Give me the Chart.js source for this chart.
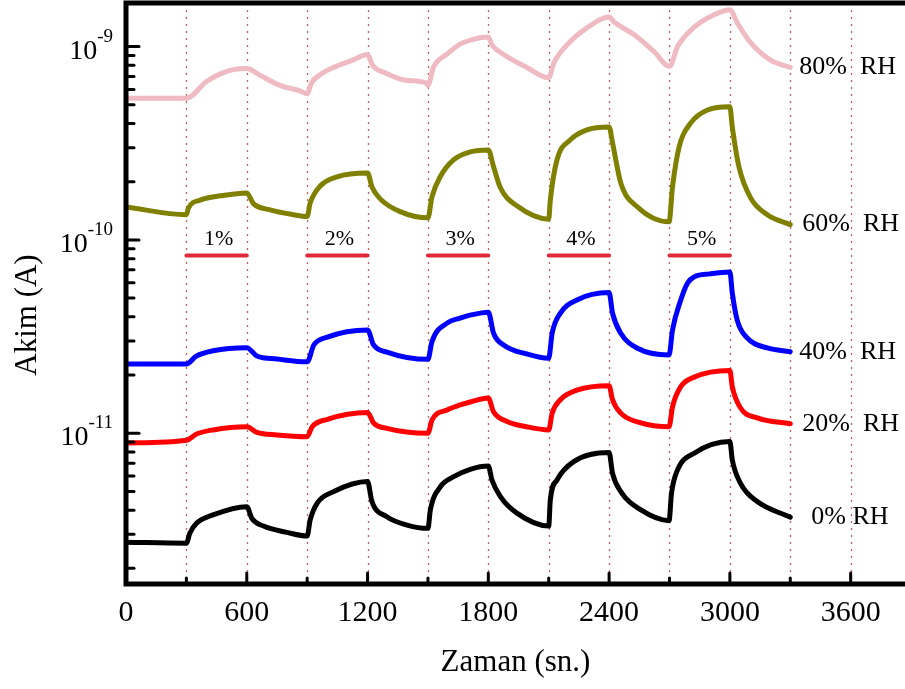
<!DOCTYPE html>
<html>
<head>
<meta charset="utf-8">
<script src="https://cdn.jsdelivr.net/npm/chart.js@4.4.0/dist/chart.umd.min.js"></script>
<style>
html, body { margin: 0; padding: 0; background: #fff; overflow: hidden; }
#myChart { display: block; }
</style>
</head>
<body>
<canvas id="myChart" width="905" height="689"></canvas>
<script>
// time (s) and current (A) for each humidity level
const t80 = [0,300,400,466,533,600,666,765,864,900,922,960,1043,1126,1200,1225,1290,1390,1490,1500,1527,1593,1660,1726,1800,1818,1876,1991,2100,2125,2191,2290,2400,2425,2525,2624,2700,2740,2823,2922,3000,3036,3102,3202,3300];
const v80 = [5.4e-10,5.4e-10,6.6e-10,7.2e-10,7.6e-10,7.7e-10,7.1e-10,6.3e-10,5.9e-10,5.7e-10,6.5e-10,7.1e-10,7.9e-10,8.5e-10,9.1e-10,8.0e-10,7.3e-10,6.7e-10,6.5e-10,6.3e-10,7.8e-10,9.1e-10,1.03e-9,1.09e-9,1.12e-9,1.02e-9,9.1e-10,7.8e-10,6.9e-10,8.2e-10,1.02e-9,1.25e-9,1.42e-9,1.34e-9,1.15e-9,9.4e-10,7.9e-10,1.0e-9,1.26e-9,1.46e-9,1.55e-9,1.33e-9,1.05e-9,8.5e-10,7.8e-10];

const t60 = [0,300,310,372,470,600,633,716,832,900,915,965,1048,1200,1222,1263,1362,1500,1520,1561,1627,1710,1800,1826,1860,1942,2100,2108,2141,2207,2290,2400,2417,2458,2541,2698,2715,2748,2806,2889,3000,3012,3045,3103,3186,3300];
const v60 = [1.48e-10,1.35e-10,1.46e-10,1.61e-10,1.69e-10,1.75e-10,1.54e-10,1.43e-10,1.35e-10,1.32e-10,1.55e-10,1.90e-10,2.12e-10,2.22e-10,1.88e-10,1.63e-10,1.40e-10,1.30e-10,1.67e-10,2.12e-10,2.59e-10,2.85e-10,2.92e-10,2.39e-10,1.86e-10,1.50e-10,1.28e-10,1.61e-10,2.59e-10,3.29e-10,3.71e-10,3.84e-10,3.18e-10,1.97e-10,1.48e-10,1.24e-10,1.88e-10,3.03e-10,4.03e-10,4.70e-10,4.88e-10,3.84e-10,2.39e-10,1.65e-10,1.35e-10,1.20e-10];

const t40 = [0,300,350,432,600,650,750,900,933,1000,1200,1230,1296,1500,1520,1595,1660,1710,1800,1826,1876,1991,2100,2117,2158,2240,2400,2417,2458,2541,2698,2715,2756,2790,2823,2900,3000,3012,3036,3086,3186,3300];
const v40 = [2.28e-11,2.28e-11,2.51e-11,2.67e-11,2.77e-11,2.51e-11,2.42e-11,2.34e-11,2.86e-11,3.14e-11,3.42e-11,2.86e-11,2.63e-11,2.41e-11,2.98e-11,3.71e-11,3.94e-11,4.08e-11,4.23e-11,3.29e-11,2.86e-11,2.57e-11,2.44e-11,3.29e-11,4.18e-11,4.89e-11,5.34e-11,4.18e-11,3.29e-11,2.75e-11,2.54e-11,3.42e-11,4.89e-11,5.99e-11,6.44e-11,6.67e-11,6.83e-11,5.32e-11,3.86e-11,3.11e-11,2.76e-11,2.64e-11];

const t20 = [0,300,350,432,600,650,750,900,925,1000,1200,1230,1296,1500,1520,1595,1660,1710,1800,1826,1893,1991,2100,2117,2158,2240,2400,2417,2458,2558,2698,2715,2756,2823,3000,3012,3053,3136,3300];
const v20 = [8.9e-12,9.2e-12,9.9e-12,1.04e-11,1.08e-11,1.01e-11,9.8e-12,9.6e-12,1.08e-11,1.18e-11,1.28e-11,1.13e-11,1.06e-11,1.0e-11,1.17e-11,1.32e-11,1.40e-11,1.45e-11,1.52e-11,1.29e-11,1.15e-11,1.08e-11,1.04e-11,1.27e-11,1.49e-11,1.67e-11,1.76e-11,1.49e-11,1.27e-11,1.13e-11,1.08e-11,1.37e-11,1.74e-11,1.95e-11,2.11e-11,1.74e-11,1.35e-11,1.20e-11,1.12e-11];

const t0 = [0,300,317,350,432,600,625,683,800,900,915,950,1032,1200,1222,1296,1396,1500,1512,1562,1628,1710,1800,1818,1860,1942,2100,2108,2141,2224,2400,2417,2458,2558,2698,2710,2740,2823,3000,3012,3053,3136,3300];
const v0 = [2.73e-12,2.70e-12,3.04e-12,3.42e-12,3.78e-12,4.17e-12,3.63e-12,3.31e-12,3.07e-12,2.94e-12,3.56e-12,4.35e-12,4.99e-12,5.62e-12,4.43e-12,3.70e-12,3.35e-12,3.22e-12,4.01e-12,5.29e-12,5.96e-12,6.51e-12,6.77e-12,5.73e-12,4.70e-12,3.86e-12,3.31e-12,4.52e-12,5.73e-12,7.13e-12,7.94e-12,6.21e-12,4.99e-12,4.01e-12,3.53e-12,4.89e-12,6.46e-12,7.88e-12,9.05e-12,7.28e-12,5.51e-12,4.43e-12,3.68e-12];

const seriesNames = ['80%  RH', '60%  RH', '40%  RH', '20%  RH', '0% RH'];
const seriesColors = ['#efbac2', '#7f7f00', '#0000ff', '#ff0000', '#000000'];

// gas pulses
const pulseStart = [300, 900, 1500, 2100, 2700];
const pulseEnd = [600, 1200, 1800, 2400, 3000];
const pulseLabels = ['1%', '2%', '3%', '4%', '5%'];
const pulseLevel = 8.3e-11;

const xTicks = [0, 600, 1200, 1800, 2400, 3000, 3600];
const yDecadeExps = [-11, -10, -9];
const switchTimes = [300,600,900,1200,1500,1800,2100,2400,2700,3000,3300,3600];

const serif = 'Liberation Serif, Times New Roman, serif';

const toPts = (ts, vs) => ts.map((t, i) => ({x: t, y: vs[i]}));
const allT = [t80, t60, t40, t20, t0];
const allV = [v80, v60, v40, v20, v0];

const datasets = allT.map((ts, i) => ({
  label: seriesNames[i],
  data: toPts(ts, allV[i]),
  borderColor: seriesColors[i],
  borderWidth: 5,
  pointRadius: 0,
  cubicInterpolationMode: 'monotone',
  borderJoinStyle: 'round',
  borderCapStyle: 'round',
  fill: false
}));

const pulsePts = [];
pulseStart.forEach((s, i) => {
  pulsePts.push({x: s, y: pulseLevel}, {x: pulseEnd[i], y: pulseLevel}, {x: pulseEnd[i] + 1, y: null});
});
datasets.push({
  label: 'pulse',
  data: pulsePts,
  borderColor: '#e02a3a',
  borderWidth: 4,
  pointRadius: 0,
  borderCapStyle: 'round',
  spanGaps: false,
  fill: false
});

const frame = {
  id: 'frame',
  beforeDatasetsDraw(chart) {
    const {ctx, chartArea: a, scales: {x}} = chart;
    ctx.save();
    ctx.strokeStyle = 'rgba(175,70,70,0.85)';
    ctx.lineWidth = 1.3;
    ctx.setLineDash([2, 5]);
    switchTimes.forEach(t => {
      const px = Math.round(x.getPixelForValue(t)) + 0.5;
      ctx.beginPath(); ctx.moveTo(px, a.top); ctx.lineTo(px, a.bottom); ctx.stroke();
    });
    ctx.restore();
  },
  afterDraw(chart) {
    const {ctx, chartArea: a, scales: {x, y}} = chart;
    ctx.save();
    ctx.strokeStyle = '#000';
    ctx.lineWidth = 5;
    ctx.beginPath();
    ctx.moveTo(a.right, a.top); ctx.lineTo(a.left, a.top);
    ctx.lineTo(a.left, a.bottom); ctx.lineTo(a.right, a.bottom);
    ctx.stroke();

    // inward ticks
    ctx.lineWidth = 3;
    ctx.lineCap = 'round';
    for (let e = -12; e <= -9; e++) {
      for (let m = 1; m <= 9; m++) {
        const v = m * Math.pow(10, e);
        if (v < y.min || v > y.max) continue;
        const py = y.getPixelForValue(v);
        ctx.beginPath(); ctx.moveTo(a.left, py); ctx.lineTo(a.left + (m === 1 ? 13 : 8), py); ctx.stroke();
      }
    }
    switchTimes.forEach(t => {
      const px = x.getPixelForValue(t);
      ctx.beginPath(); ctx.moveTo(px, a.bottom); ctx.lineTo(px, a.bottom - (t % 600 === 0 ? 11 : 6)); ctx.stroke();
    });

    ctx.fillStyle = '#000';
    // decade labels with superscript exponent
    ctx.textAlign = 'left';
    ctx.textBaseline = 'alphabetic';
    yDecadeExps.forEach(e => {
      const py = y.getPixelForValue(Math.pow(10, e));
      const ex = String(e);
      ctx.font = '19px ' + serif;
      const we = ctx.measureText(ex).width;
      ctx.font = '28px ' + serif;
      const wb = ctx.measureText('10').width;
      const x0 = a.left - 13 - we - wb;
      ctx.fillText('10', x0, py + 12);
      ctx.font = '19px ' + serif;
      ctx.fillText(ex, x0 + wb, py - 5);
    });

    // pulse labels
    ctx.font = '22px ' + serif;
    ctx.textAlign = 'center';
    ctx.textBaseline = 'middle';
    pulseLabels.forEach((lab, i) => {
      const px = x.getPixelForValue((pulseStart[i] + pulseEnd[i]) / 2) + 2;
      ctx.fillText(lab, px, y.getPixelForValue(pulseLevel) - 16);
    });

    // series labels at the end of each curve
    const offs = [9, 12, 9, 12, 21];
    ctx.font = '26px ' + serif;
    ctx.textAlign = 'left';
    allT.forEach((ts, i) => {
      const n = ts.length - 1;
      ctx.fillText(seriesNames[i], x.getPixelForValue(ts[n]) + offs[i], y.getPixelForValue(allV[i][n]));
    });

    // y axis title
    ctx.font = '31px ' + serif;
    ctx.textAlign = 'center';
    ctx.translate(28, 315);
    ctx.rotate(-Math.PI / 2);
    ctx.fillText('Akim (A)', 0, 0);
    ctx.restore();
  }
};

new Chart(document.getElementById('myChart'), {
  type: 'line',
  data: { datasets: datasets },
  options: {
    responsive: false,
    animation: false,
    devicePixelRatio: 1,
    layout: { padding: { top: 3, left: 0, right: 0, bottom: 0 } },
    plugins: { legend: { display: false }, tooltip: { enabled: false } },
    scales: {
      x: {
        type: 'linear',
        min: 0,
        max: 3870,
        grid: { display: false, drawTicks: false },
        border: { display: false },
        afterBuildTicks: s => { s.ticks = xTicks.map(v => ({ value: v })); },
        ticks: {
          autoSkip: false,
          maxRotation: 0,
          padding: 11,
          color: '#000',
          font: { family: serif, size: 30 },
          callback: v => String(v)
        },
        title: { display: true, text: 'Zaman (sn.)', color: '#000', font: { family: serif, size: 31 }, padding: { top: 0, bottom: 8 } },
        afterFit: s => { s.height = 105; }
      },
      y: {
        type: 'logarithmic',
        min: 1.66e-12,
        max: 1.68e-9,
        grid: { display: false, drawTicks: false },
        border: { display: false },
        ticks: { display: false },
        afterFit: s => { s.width = 126; }
      }
    }
  },
  plugins: [frame]
});
</script>
</body>
</html>
